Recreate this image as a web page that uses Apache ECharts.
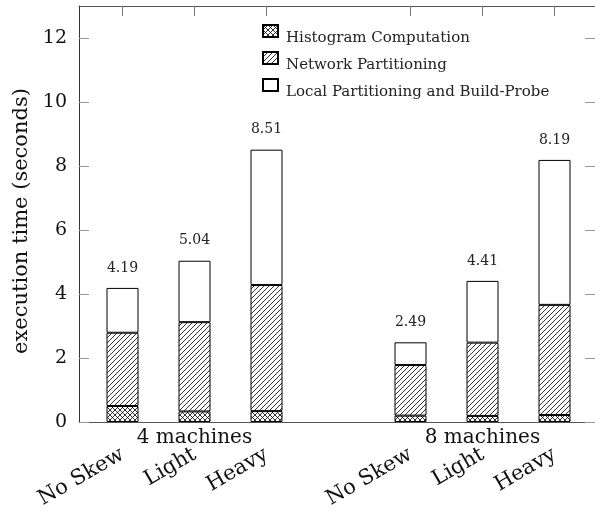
<!DOCTYPE html>
<html>
<head>
<meta charset="utf-8">
<script src="https://cdn.jsdelivr.net/npm/echarts@6/dist/echarts.min.js"></script>
<style>html,body{margin:0;padding:0;background:#fff;}#c{width:595px;height:520px;}</style>
</head>
<body>
<div id="c"></div>
<script>
// ---- data ----
const skewLabels = ['No Skew', 'Light', 'Heavy', '', 'No Skew', 'Light', 'Heavy'];
const groupLabels = ['', '4 machines', '', '', '', '8 machines', ''];
const histogram = [0.50, 0.33, 0.34, null, 0.20, 0.19, 0.22];
const network = [2.29, 2.79, 3.94, null, 1.58, 2.29, 3.44];
const localBP = [1.40, 1.92, 4.23, null, 0.71, 1.93, 4.53];
const totals = ['4.19', '5.04', '8.51', '', '2.49', '4.41', '8.19'];
const yTicks = [0, 2, 4, 6, 8, 10, 12];
const seriesNames = ['Histogram Computation', 'Network Partitioning', 'Local Partitioning and Build-Probe'];

function makePattern(cross) {
  const s = 5;
  const c = document.createElement('canvas');
  c.width = s; c.height = s;
  const g = c.getContext('2d');
  g.fillStyle = '#fff'; g.fillRect(0, 0, s, s);
  g.strokeStyle = '#000'; g.lineWidth = 0.8;
  g.beginPath();
  for (let k = -1; k <= 1; k++) {
    g.moveTo(-1 + k * s, s + 1); g.lineTo(s + 1 + k * s, -1);
    if (cross) { g.moveTo(-1 + k * s, -1); g.lineTo(s + 1 + k * s, s + 1); }
  }
  g.stroke();
  return { image: c, repeat: 'repeat' };
}

const serif = 'DejaVu Serif';
const legendIcon = 'path://M0,0H15V12H0Z M0,26L0,26';
const chart = echarts.init(document.getElementById('c'), null, { renderer: 'canvas' });
const barBase = { type: 'bar', stack: 'total', barWidth: 32, xAxisIndex: 0, yAxisIndex: 0 };
const skipEmpty = (i, v) => v !== '';
const frameLine = { show: true, onZero: false, lineStyle: { color: '#555', width: 1 } };
chart.setOption({
  animation: false,
  backgroundColor: '#fff',
  grid: [
    { left: 86.5, width: 504, top: 6, bottom: 98 },
    { left: 79, right: -2.4, top: 6, bottom: 98 }
  ],
  legend: {
    orient: 'vertical', left: 262, top: 24, padding: 0, itemGap: -1,
    itemWidth: 15, itemHeight: 26, icon: legendIcon,
    data: seriesNames,
    textStyle: { fontFamily: serif, fontSize: 15, color: '#222', padding: [0, 0, 0, 3] }
  },
  xAxis: [
    { type: 'category', gridIndex: 0, data: skewLabels, position: 'bottom', boundaryGap: true,
      axisLine: { show: false, onZero: false },
      axisTick: { show: true, inside: true, length: 7, alignWithLabel: true, interval: skipEmpty, lineStyle: { color: '#777' } },
      axisLabel: { interval: 0, rotate: 30, margin: 31, fontFamily: serif, fontSize: 21, color: '#111' } },
    { type: 'category', gridIndex: 0, data: groupLabels, position: 'bottom', boundaryGap: true,
      axisLine: { show: false, onZero: false }, axisTick: { show: false },
      axisLabel: { interval: 0, margin: 6, fontFamily: serif, fontSize: 20, color: '#111' } },
    { type: 'category', gridIndex: 0, data: skewLabels, position: 'top', boundaryGap: true,
      axisLine: { show: false, onZero: false },
      axisTick: { show: true, inside: true, length: 10, alignWithLabel: true, interval: skipEmpty, lineStyle: { color: '#777' } },
      axisLabel: { show: false } },
    { type: 'value', gridIndex: 1, min: 0, max: 1, position: 'bottom',
      axisLine: frameLine, axisTick: { show: false }, axisLabel: { show: false }, splitLine: { show: false } },
    { type: 'value', gridIndex: 1, min: 0, max: 1, position: 'top',
      axisLine: frameLine, axisTick: { show: false }, axisLabel: { show: false }, splitLine: { show: false } }
  ],
  yAxis: [
    { type: 'value', gridIndex: 0, min: 0, max: 13, show: false },
    { type: 'value', gridIndex: 1, min: 0, max: 13, position: 'left',
      name: 'execution time (seconds)', nameLocation: 'middle', nameGap: 45,
      nameTextStyle: { fontFamily: serif, fontSize: 21, color: '#111', padding: [0, 14, 0, 0] },
      axisLine: { show: true, onZero: false, lineStyle: { color: '#333', width: 1 } },
      axisTick: { show: true, inside: true, length: 10, customValues: yTicks, lineStyle: { color: '#999' } },
      axisLabel: { customValues: yTicks, margin: 12, fontFamily: serif, fontSize: 19, color: '#111' },
      splitLine: { show: false } },
    { type: 'value', gridIndex: 1, min: 0, max: 13, position: 'right',
      axisLine: { show: false, onZero: false },
      axisTick: { show: true, inside: true, length: 10, customValues: yTicks, lineStyle: { color: '#999' } },
      axisLabel: { show: false }, splitLine: { show: false } }
  ],
  series: [
    Object.assign({}, barBase, { name: seriesNames[0], data: histogram,
      itemStyle: { color: makePattern(true), borderColor: '#000', borderWidth: 1 } }),
    Object.assign({}, barBase, { name: seriesNames[1], data: network,
      itemStyle: { color: makePattern(false), borderColor: '#000', borderWidth: 1 } }),
    Object.assign({}, barBase, { name: seriesNames[2], data: localBP,
      itemStyle: { color: '#fff', borderColor: '#000', borderWidth: 1 },
      label: { show: true, position: 'top', distance: 13, formatter: p => totals[p.dataIndex],
        fontFamily: serif, fontSize: 14, color: '#222' } })
  ]
});
</script>
</body>
</html>
